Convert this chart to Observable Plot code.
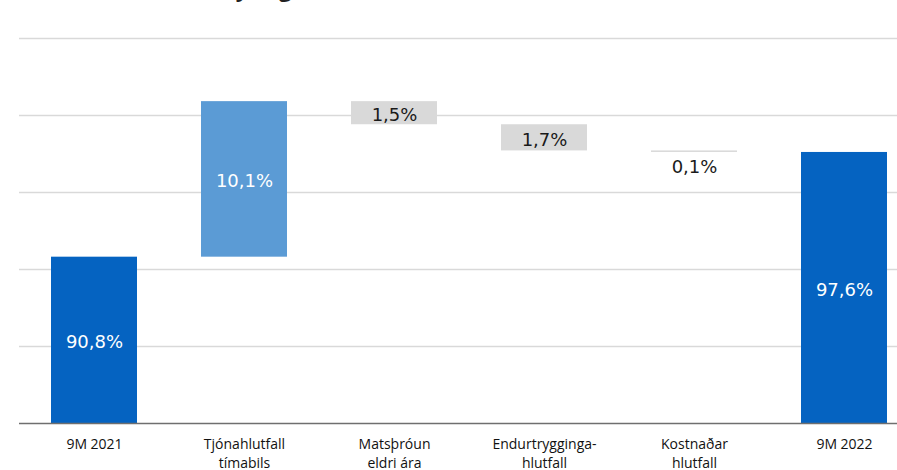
<!DOCTYPE html>
<html>
<head>
<meta charset="utf-8">
<script src="https://cdn.jsdelivr.net/npm/d3@7"></script>
<script src="https://cdn.jsdelivr.net/npm/@observablehq/plot@0.6"></script>
<style>
  html, body { margin: 0; padding: 0; background: #fff; overflow: hidden; width: 897px; height: 470px; }
  #wrap { position: relative; width: 897px; height: 470px; overflow: hidden; }
  #title { position: absolute; left: 198px; top: -23px; font-family: "Open Sans", sans-serif; font-weight: 700; font-size: 22px; line-height: 22px; color: #222; white-space: nowrap; }
  #chart { position: absolute; left: 0; top: 0; }
</style>
</head>
<body>
<div id="wrap">
  <div id="title">Breyting á samsettu hlutfalli</div>
  <div id="chart"></div>
</div>
<script>
const categories = ["9M 2021", "Tjónahlutfall\ntímabils", "Matsþróun\neldri ára", "Endurtrygginga-\nhlutfall", "Kostnaðar\nhlutfall", "9M 2022"];
const values = [90.8, 10.1, -1.5, -1.7, -0.1, 97.6];
const kinds = ["total", "up", "down", "down", "down", "total"];
const labels = ["90,8%", "10,1%", "1,5%", "1,7%", "0,1%", "97,6%"];
const yTicks = [80, 85, 90, 95, 100, 105];

const yMin = 80, yMax = 105;
const colors = { total: "#0563c1", up: "#5b9bd5", down: "#d9d9d9" };

let run = 0;
const rows = categories.map((c, i) => {
  let lo, hi;
  if (kinds[i] === "total") { lo = 0; hi = values[i]; run = values[i]; }
  else { const start = run; run = run + values[i]; lo = Math.min(start, run); hi = Math.max(start, run); }
  const small = Math.abs(values[i]) < 0.5 && kinds[i] !== "total";
  return { cat: c, lo, hi, kind: kinds[i], label: labels[i], small,
           ymid: small ? lo : (Math.max(lo, yMin) + hi) / 2 };
});

const plot = Plot.plot({
  width: 897,
  height: 470,
  marginTop: 38,
  marginBottom: 47,
  marginLeft: 19,
  marginRight: 0,
  style: { fontFamily: "'Open Sans', sans-serif", background: "transparent" },
  x: { domain: categories, range: [19, 919], paddingInner: 0.427, paddingOuter: 0.2135, axis: null, label: null },
  y: { domain: [yMin, yMax], axis: null },
  marks: [
    Plot.ruleY(yTicks.filter(d => d > yMin), { stroke: "#d9d9d9", strokeWidth: 1.5 }),
    Plot.barY(rows, { x: "cat", y1: "lo", y2: "hi", fill: d => colors[d.kind], clip: true }),
    Plot.ruleY([yMin], { stroke: "#6f6f6f", strokeWidth: 1.5 }),
    Plot.axisX({ tickSize: 0, tickPadding: 13, fontSize: 14, lineHeight: 1.3, fill: "#111", anchor: "bottom", label: null }),
    Plot.text(rows.filter(d => !d.small), {
      x: "cat", y: "ymid", text: "label", dy: 2,
      fill: d => d.kind === "down" ? "#1a1a1a" : "#ffffff",
      fontSize: 18, fontFamily: "'DejaVu Sans', sans-serif"
    }),
    Plot.text(rows.filter(d => d.small), {
      x: "cat", y: "ymid", text: "label", dy: 15,
      fill: "#1a1a1a", fontSize: 18, fontFamily: "'DejaVu Sans', sans-serif"
    })
  ]
});
document.getElementById("chart").appendChild(plot);
</script>
</body>
</html>
